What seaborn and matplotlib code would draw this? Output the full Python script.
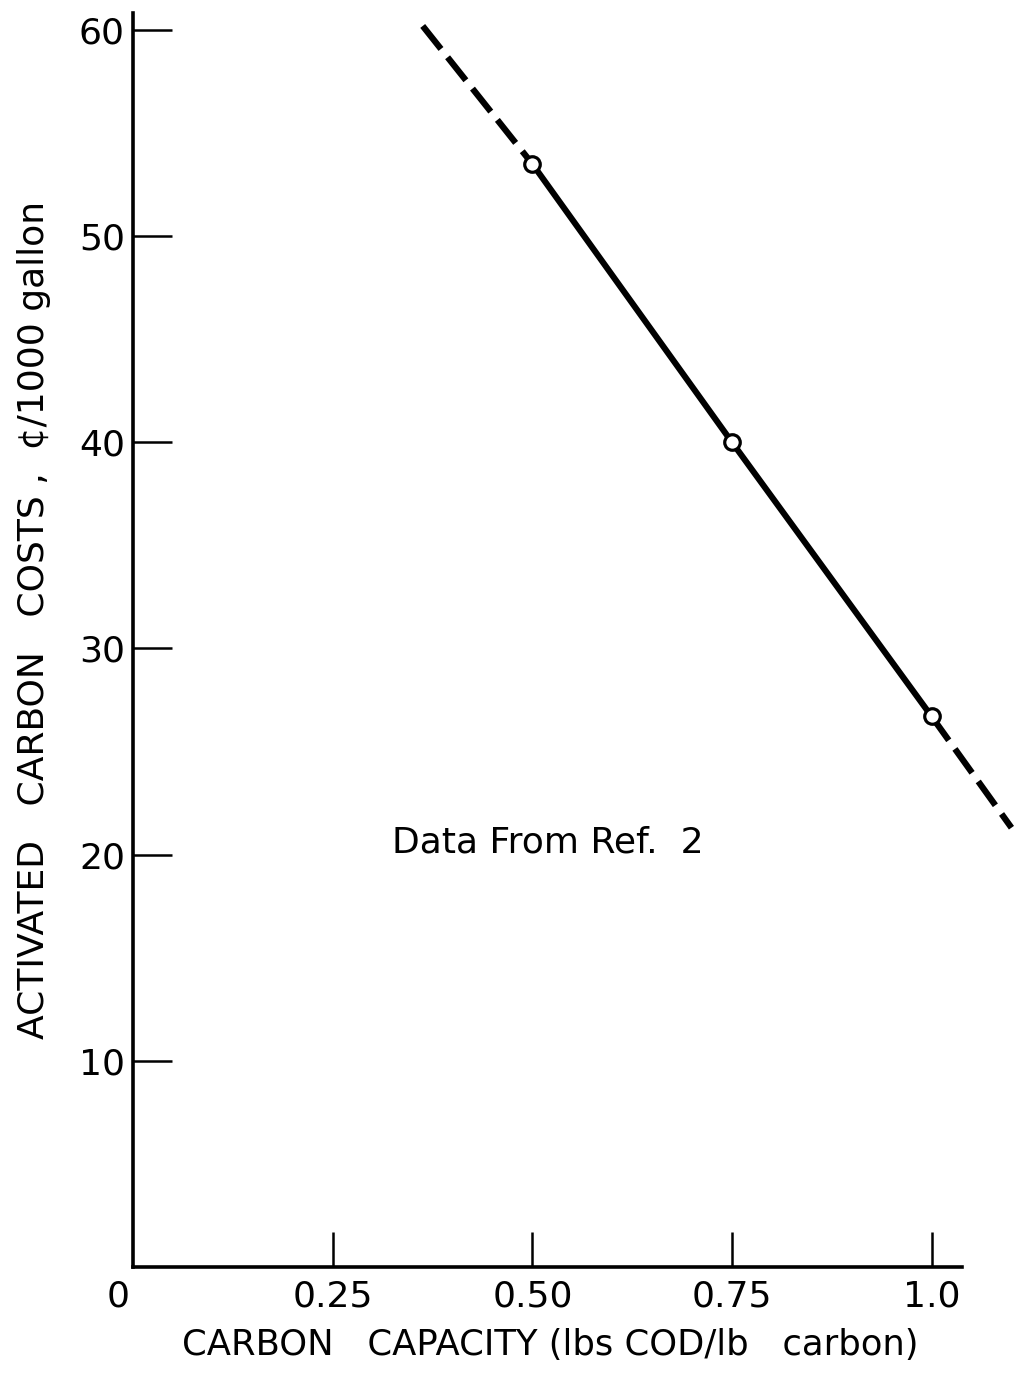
import matplotlib
matplotlib.use("Agg")
import matplotlib.pyplot as plt
import matplotlib.transforms as mtransforms
import seaborn as sns
import pandas as pd

# Measured points: carbon capacity vs. activated carbon cost
capacity = [0.50, 0.75, 1.00]
cost = [53.5, 40.0, 26.7]

# Extrapolated ends of the fitted line (dashed)
upper_x = [0.3625, 0.50]
upper_y = [60.2, 53.5]
lower_x = [1.00, 1.10]
lower_y = [26.7, 21.3]

x_ticks = [0, 0.25, 0.50, 0.75, 1.0]
x_tick_labels = ["0", "0.25", "0.50", "0.75", "1.0"]
y_ticks = [10, 20, 30, 40, 50, 60]
y_tick_labels = ["10", "20", "30", "40", "50", "60"]

sns.set_theme(style="white")
plt.rcParams["font.family"] = ["DejaVu Sans"]

fig = plt.figure(figsize=(10.2, 13.73), dpi=100)
ax = fig.add_axes([0.1307, 0.0774, 0.8693, 0.9226])

pts = pd.DataFrame({"capacity": capacity, "cost": cost})
up = pd.DataFrame({"x": upper_x, "y": upper_y})
lo = pd.DataFrame({"x": lower_x, "y": lower_y})

dash = (0, (4.7, 1.7))
for seg in (up, lo):
    sns.lineplot(data=seg, x="x", y="y", ax=ax, color="black", linewidth=4.5,
                 linestyle=dash, sort=False)
sns.lineplot(data=pts, x="capacity", y="cost", ax=ax, color="black",
             linewidth=4.4, sort=False)
sns.scatterplot(data=pts, x="capacity", y="cost", ax=ax, s=125,
                facecolor="white", edgecolor="black", linewidth=2.3, zorder=5)

ax.set_xlim(0, 1.1107)
ax.set_ylim(0, 61.46)
ax.set_xlabel("")
ax.set_ylabel("")

for side in ("top", "right"):
    ax.spines[side].set_visible(False)
for side in ("left", "bottom"):
    ax.spines[side].set_color("black")
    ax.spines[side].set_linewidth(2.6)
ax.spines["bottom"].set_bounds(0, 1.038)
ax.spines["left"].set_bounds(0, 60.83)

ax.set_xticks(x_ticks)
ax.set_xticklabels(x_tick_labels)
ax.set_yticks(y_ticks)
ax.set_yticklabels(y_tick_labels)
ax.tick_params(axis="x", bottom=True, direction="in", length=25, width=1.8,
               color="black", pad=9, labelsize=26, labelcolor="black")
ax.tick_params(axis="y", left=True, direction="in", length=28, width=1.8,
               color="black", pad=6, labelsize=26, labelcolor="black")
ax.xaxis.get_major_ticks()[0].tick1line.set_visible(False)
zero_lbl = ax.get_xticklabels()[0]
zero_lbl.set_transform(zero_lbl.get_transform() +
                       mtransforms.ScaledTranslation(-0.15, 0, fig.dpi_scale_trans))

ax.text(0.519, 20.6, "Data From Ref.  2", ha="center", va="center",
        fontsize=26, color="black")

fig.text(550 / 1020, 1 - 1345 / 1373, "CARBON   CAPACITY (lbs COD/lb   carbon)",
         ha="center", va="center", fontsize=25.5, color="black")
fig.text(34 / 1020, 1 - 620 / 1373, "ACTIVATED   CARBON   COSTS ,  ¢/1000 gallon",
         ha="center", va="center", rotation=90, fontsize=26, color="black")

fig.savefig("out.png", dpi=100, facecolor="white")
